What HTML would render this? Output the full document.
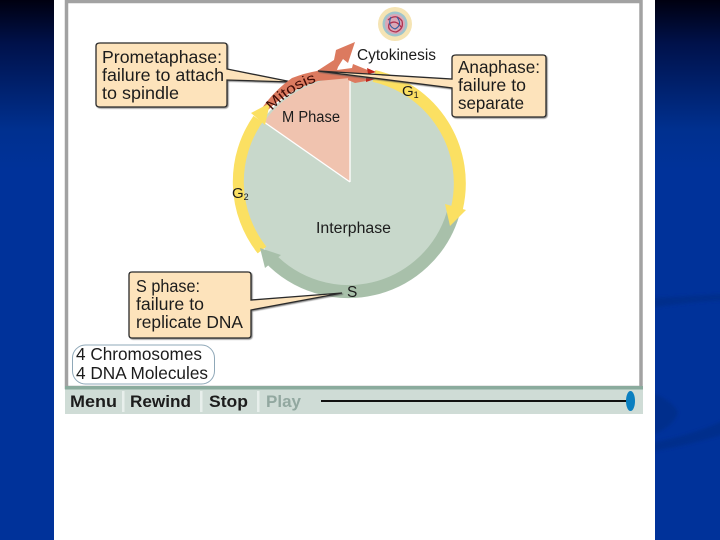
<!DOCTYPE html>
<html><head><meta charset="utf-8"><style>
html,body{margin:0;padding:0;width:720px;height:540px;overflow:hidden;background:#00329a}
svg{display:block}
text{font-family:"Liberation Sans",sans-serif;fill:#1c1c1c}
.c{font-size:17.500px}
.b{font-size:17px;font-weight:bold}
</style></head><body>
<svg width="720" height="540" viewBox="0 0 720 540" xmlns="http://www.w3.org/2000/svg">
<defs>
<linearGradient id="bg" x1="0" y1="0" x2="0" y2="1"><stop offset="0" stop-color="#000010"/><stop offset="0.08" stop-color="#00114a"/><stop offset="0.24" stop-color="#00308f"/><stop offset="0.32" stop-color="#00329a"/><stop offset="1" stop-color="#00329a"/></linearGradient>
<filter id="sh" x="-5%" y="-5%" width="110%" height="110%"><feDropShadow dx="1" dy="1" stdDeviation="0.6" flood-color="#555" flood-opacity=".7"/></filter>
<filter id="bl"><feGaussianBlur stdDeviation="0.35"/></filter>
<filter id="bl2"><feGaussianBlur stdDeviation="1.500"/></filter>
</defs>
<rect width="720" height="540" fill="url(#bg)"/>
<g filter="url(#bl2)" fill="#002d8c">
<path d="M650 298 Q690 296 725 294 V300 Q690 302 650 308Z"/>
<path d="M650 392 Q672 400 678 412 Q675 426 650 436Z"/>
<path d="M650 443 Q690 436 725 420 V434 Q690 445 650 452Z"/>
</g>
<rect x="54" y="0" width="601" height="540" fill="#fff"/>
<!-- frame -->
<rect x="66.500" y="1.500" width="574.500" height="386" fill="#fff" stroke="#a2a2a2" stroke-width="3.500"/>
<rect x="65" y="387" width="578" height="27" fill="#cfdcd6"/>
<rect x="65" y="386" width="578" height="3.500" fill="#8aab9d"/>
<rect x="122" y="391" width="2.500" height="21" fill="#e8efec"/><rect x="200" y="391" width="2.500" height="21" fill="#e8efec"/><rect x="257" y="391" width="2.500" height="21" fill="#e8efec"/>
<text x="70" y="407" class="b" textLength="47" lengthAdjust="spacingAndGlyphs">Menu</text>
<text x="130" y="407" class="b" textLength="61" lengthAdjust="spacingAndGlyphs">Rewind</text>
<text x="209" y="407" class="b" textLength="39" lengthAdjust="spacingAndGlyphs">Stop</text>
<text x="266" y="407" class="b" style="fill:#92a8a0" textLength="35" lengthAdjust="spacingAndGlyphs">Play</text>
<rect x="321" y="400" width="308" height="2" fill="#111"/>
<ellipse cx="630.500" cy="401" rx="4.500" ry="10" fill="#0a7fc0"/>

<!-- prometaphase callout (under the band) -->
<g filter="url(#sh)">
<path d="M100 43 H224 Q227 43 227 46 V69 L292 82 L227 80 V104 Q227 107 224 107 H100 Q96 107 96 104 V46 Q96 43 100 43Z" fill="#fde3bb" stroke="#2a2a2a" stroke-width="1.300"/>
</g>

<g filter="url(#bl)">
<!-- main disc -->
<circle cx="349" cy="183" r="107" fill="#c8d8cb"/>
<path d="M350 182 L350 77 A106 106 0 0 0 264 122Z" fill="#f0c3af"/>
<path d="M350 182 L350 77 M350 182 L264 122" stroke="#fff" stroke-width="1.300" fill="none"/>
<!-- yellow arc G2 -->
<path d="M262 250 A110 110 0 0 1 258 119" fill="none" stroke="#fbe062" stroke-width="11"/>
<!-- dark green arc -->
<path d="M453 214 A109 109 0 0 1 269 257" fill="none" stroke="#a8c0aa" stroke-width="13"/>
<path d="M260 248 L281 255 L265 268Z" fill="#a8c0aa"/>
<!-- mitosis band -->
<path d="M262 108 Q275 90 292 78 Q305 73 317 71 L334 60 L336 50 L355 42 L348 63 L343 59 L338 67 L337 70 L352 68 L353 64 L375 73 L355 74 L350 78 L318 81 Q288 90 268 110Z" fill="#dc7a5e"/>
<path d="M348 76 L355 76 L372 80 L355 83 L348 80Z" fill="#dc7a5e"/>
<!-- yellow arc G1 -->
<path d="M374 76 A110 110 0 0 1 457 208" fill="none" stroke="#fbe062" stroke-width="12"/>
<path d="M445 204 L466 210 L450 226Z" fill="#fbe062"/>
<path d="M270 103 L251 113 L265 125Z" fill="#fbe062"/>
<path d="M367 68 L376 72 L368 74Z" fill="#c0281e"/><path d="M366 77 L375 79 L366 82Z" fill="#c0281e"/>
<!-- cell icon -->
<circle cx="395" cy="24" r="17" fill="#f5e4b4"/>
<circle cx="395" cy="24" r="12.500" fill="#9fc4cc"/>
<circle cx="395" cy="24" r="10" fill="#d9a8b8"/>
<path d="M388 20 Q396 13 402 21 Q404 29 396 32 Q387 31 389 24 Q396 19 401 27" fill="none" stroke="#b03050" stroke-width="1.300"/>
<path d="M391 17 Q387 26 395 29 Q403 25 397 17" fill="none" stroke="#3060a0" stroke-width="1.100"/>
</g>

<!-- callouts -->
<g filter="url(#sh)">
<path d="M456 55 H543 Q546 55 546 58 V114 Q546 117 543 117 H456 Q452 117 452 114 V88 L318 71 L452 79 V58 Q452 55 456 55Z" fill="#fde3bb" stroke="#2a2a2a" stroke-width="1.300"/>
<path d="M132 272 H248 Q251 272 251 275 V300 L342 293 L251 310 V335 Q251 338 248 338 H132 Q129 338 129 335 V275 Q129 272 132 272Z" fill="#fde3bb" stroke="#2a2a2a" stroke-width="1.300"/>
</g>
<rect x="72.500" y="345" width="142" height="39" rx="13" fill="#fff" stroke="#8fa8b8" stroke-width="1"/>

<text x="102" y="63" class="c" textLength="120" lengthAdjust="spacingAndGlyphs">Prometaphase:</text>
<text x="102" y="81" class="c" textLength="122" lengthAdjust="spacingAndGlyphs">failure to attach</text>
<text x="102" y="99" class="c" textLength="77" lengthAdjust="spacingAndGlyphs">to spindle</text>
<text x="458" y="73" class="c" textLength="82" lengthAdjust="spacingAndGlyphs">Anaphase:</text>
<text x="458" y="91" class="c" textLength="68" lengthAdjust="spacingAndGlyphs">failure to</text>
<text x="458" y="109" class="c" textLength="66" lengthAdjust="spacingAndGlyphs">separate</text>
<text x="136" y="292" class="c" textLength="64" lengthAdjust="spacingAndGlyphs">S phase:</text>
<text x="136" y="310" class="c" textLength="68" lengthAdjust="spacingAndGlyphs">failure to</text>
<text x="136" y="328" class="c" textLength="107" lengthAdjust="spacingAndGlyphs">replicate DNA</text>
<text x="76" y="360" class="c" textLength="126" lengthAdjust="spacingAndGlyphs">4 Chromosomes</text>
<text x="76" y="379" class="c" textLength="132" lengthAdjust="spacingAndGlyphs">4 DNA Molecules</text>
<text x="357" y="60" style="font-size:15.500px" textLength="79" lengthAdjust="spacingAndGlyphs">Cytokinesis</text>
<text x="282" y="122" style="font-size:15.500px" textLength="58" lengthAdjust="spacingAndGlyphs">M Phase</text>
<text x="316" y="233" style="font-size:15.500px" textLength="75" lengthAdjust="spacingAndGlyphs">Interphase</text>
<text x="347" y="297" style="font-size:15.500px">S</text>
<text x="402" y="96" style="font-size:15px">G<tspan font-size="9" dy="2">1</tspan></text>
<text x="232" y="198" style="font-size:15px">G<tspan font-size="9" dy="2">2</tspan></text>
<path id="mp" d="M272 111 Q291 89 322 80" fill="none"/>
<text style="font-size:14.500px;fill:#3d0b06"><textPath href="#mp" textLength="54" lengthAdjust="spacingAndGlyphs">Mitosis</textPath></text>
</svg>
</body></html>
